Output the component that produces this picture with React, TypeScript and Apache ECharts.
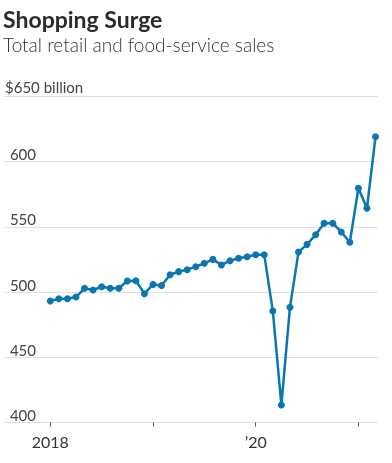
import React, { useEffect, useRef } from "react";
import * as echarts from "echarts";

const months: string[] = [
  "2018-01","2018-02","2018-03","2018-04","2018-05","2018-06","2018-07","2018-08","2018-09","2018-10","2018-11","2018-12",
  "2019-01","2019-02","2019-03","2019-04","2019-05","2019-06","2019-07","2019-08","2019-09","2019-10","2019-11","2019-12",
  "2020-01","2020-02","2020-03","2020-04","2020-05","2020-06","2020-07","2020-08","2020-09","2020-10","2020-11","2020-12",
  "2021-01","2021-02","2021-03",
];

const sales: number[] = [
  493.2, 494.9, 494.9, 496.2, 502.9, 501.6, 504.1, 502.9, 502.9, 508.5, 508.7, 498.8,
  505.9, 505.0, 513.3, 515.7, 517.2, 519.5, 522.1, 525.1, 520.8, 524.1, 525.9, 527.1,
  528.7, 528.7, 485.5, 413.4, 488.3, 530.7, 536.6, 544.0, 552.8, 552.8, 546.1, 538.2,
  579.6, 564.3, 619.2,
];

const yTicks: number[] = [400, 450, 500, 550, 600, 650];
const xTickMonths: number[] = [0, 12, 24, 36];
const xLabelMonths: number[] = [0, 24];
const xLabelText: string[] = ["2018", "\u201920"];

const NARROW = "'Liberation Sans Narrow', 'Arial Narrow', Lato, sans-serif";

export default function App() {
  const ref = useRef<HTMLDivElement>(null);
  useEffect(() => {
    if (!ref.current) return;
    const chart = echarts.init(ref.current, undefined, { renderer: "svg" });
    const data = sales.map((v, i) => [i, v]);
    chart.setOption({
      animation: false,
      title: {
        text: "Shopping Surge",
        subtext: "Total retail and food-service sales",
        left: 3,
        top: 7,
        itemGap: 5,
        padding: 0,
        textStyle: { fontFamily: "Lato", fontWeight: "bold", fontSize: 23, color: "#2a2a2a" },
        subtextStyle: { fontFamily: "Lato", fontWeight: 300, fontSize: 19, color: "#333" },
      },
      graphic: [
        {
          type: "text",
          x: 5,
          y: 94,
          style: {
            text: "$650 billion",
            font: `15px ${NARROW}`,
            fill: "#444",
            verticalAlign: "bottom",
          },
        },
      ],
      grid: { left: 4, right: 14, top: 96.5, bottom: 40.5 },
      xAxis: {
        type: "value",
        min: -5.41,
        max: 38.29,
        splitLine: { show: false },
        axisLine: { show: false },
        axisTick: {
          show: true,
          length: 4,
          customValues: xTickMonths,
          lineStyle: { color: "#555", width: 1 },
        },
        axisLabel: {
          customValues: xLabelMonths,
          margin: 11,
          fontFamily: NARROW,
          fontSize: 16,
          color: "#333",
          formatter: (v: number) => {
            const idx = xLabelMonths.indexOf(Math.round(v));
            return idx >= 0 ? xLabelText[idx] : "";
          },
        },
      },
      yAxis: {
        type: "value",
        min: yTicks[0],
        max: yTicks[yTicks.length - 1],
        interval: 50,
        axisLine: { show: false },
        axisTick: { show: false },
        splitLine: { show: true, lineStyle: { color: "#e0e0e0", width: 1 } },
        axisLabel: {
          inside: true,
          margin: 32,
          align: "right",
          verticalAlign: "bottom",
          lineHeight: 15,
          fontFamily: NARROW,
          fontSize: 15,
          color: "#444",
          formatter: (v: number) => (v === 650 ? "" : String(v)),
        },
      },
      series: [
        {
          type: "line",
          data,
          symbol: "circle",
          symbolSize: 7,
          lineStyle: { color: "#0a77b0", width: 2.5 },
          itemStyle: { color: "#0a77b0" },
        },
      ],
    });
    return () => chart.dispose();
  }, []);
  return <div ref={ref} style={{ position: "fixed", left: 0, top: 0, width: 392, height: 463 }} />;
}
